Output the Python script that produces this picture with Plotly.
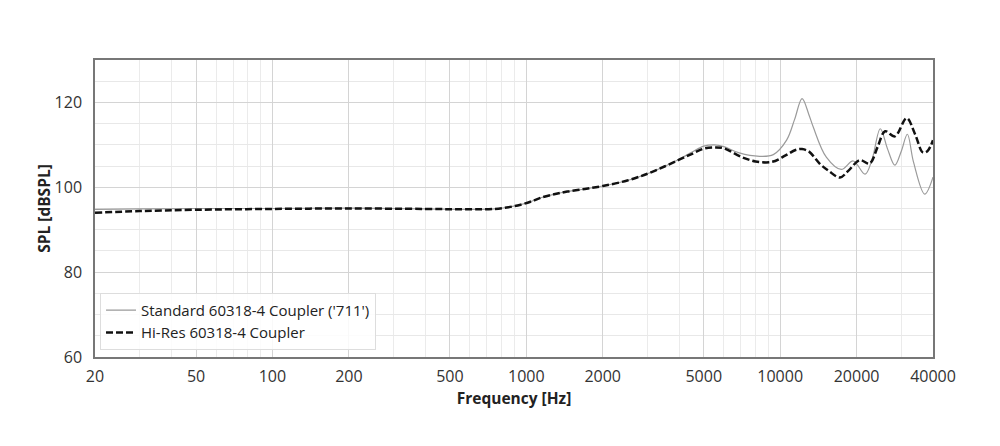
import numpy as np
import plotly.graph_objects as go

# Standard 60318-4 coupler ('711')
std_freq = [20, 30, 50, 100, 200, 400, 600, 750, 850, 950, 1050, 1150, 1300, 1450, 1700,
            2000, 2500, 3000, 3500, 4000, 4500, 5000, 5500, 6000, 6900, 8300, 9400, 10600,
            11400, 12200, 13000, 13500, 15200, 17400, 19400, 21600, 23000, 24800, 26500,
            28300, 30000, 31700, 33500, 37100, 40000]
std_spl = [94.8, 94.9, 95.0, 95.0, 95.1, 94.9, 94.8, 94.9, 95.3, 95.9, 96.7, 97.6, 98.4, 99.0, 99.6,
           100.3, 101.6, 103.2, 104.9, 106.6, 108.3, 109.7, 110.0, 109.6, 108.1, 107.3, 107.7, 111.1,
           116.0, 120.9, 117.0, 114.2, 107.1, 104.2, 106.2, 103.1, 106.5, 113.8, 109.0,
           105.2, 108.5, 112.5, 106.0, 98.4, 102.4]

# Hi-Res 60318-4 coupler
hr_freq = [20, 30, 50, 100, 200, 400, 600, 750, 850, 950, 1050, 1150, 1300, 1450, 1700,
           2000, 2500, 3000, 3500, 4000, 4500, 5000, 5500, 6000, 7000, 8000, 9300, 10500,
           11500, 12200, 13000, 14300, 15500, 17200, 18500, 20600, 22500, 24200, 25900,
           28300, 31500, 34000, 36500, 38000, 40000]
hr_spl = [94.0, 94.4, 94.7, 94.9, 95.0, 94.9, 94.8, 94.9, 95.3, 95.9, 96.7, 97.6, 98.4, 99.0, 99.6,
          100.3, 101.6, 103.2, 104.9, 106.5, 107.9, 109.1, 109.4, 109.2, 107.2, 106.1, 106.0, 107.5,
          108.8, 109.0, 108.4, 105.6, 103.9, 102.3, 103.8, 106.4, 105.6, 109.5, 113.2,
          112.0, 116.3, 112.5, 108.2, 108.5, 111.1]

x_ticks = [20, 50, 100, 200, 500, 1000, 2000, 5000, 10000, 20000, 40000]
x_ticktext = ["20", "50", "100", "200", "500", "1000", "2000", "5000", "10000", "20000", "40000"]
y_ticks = [60, 80, 100, 120]

minor_x = []
for dec in [10, 100, 1000, 10000]:
    for m in range(1, 10):
        v = m * dec
        if 20 <= v <= 40000 and v not in x_ticks:
            minor_x.append(v)

FONT = "Open Sans"

fig = go.Figure()
fig.add_trace(go.Scatter(
    x=std_freq, y=std_spl, mode="lines", name="Standard 60318-4 Coupler ('711')",
    line=dict(color="#9a9a9a", width=1.2, shape="spline", smoothing=1.0),
))
fig.add_trace(go.Scatter(
    x=hr_freq, y=hr_spl, mode="lines", name="Hi-Res 60318-4 Coupler",
    line=dict(color="#111111", width=2.5, dash="7px,3px", shape="spline", smoothing=1.0),
))

fig.update_layout(
    width=1000, height=446,
    margin=dict(l=95, r=67, t=60, b=89),
    paper_bgcolor="white", plot_bgcolor="white",
    font=dict(family=FONT, size=16, color="#333333"),
    showlegend=True,
    legend=dict(
        x=0.006, y=0.024, xanchor="left", yanchor="bottom",
        bgcolor="rgba(255,255,255,0.85)", bordercolor="#dddddd", borderwidth=1,
        font=dict(family=FONT, size=15, color="#222222"),
        tracegroupgap=0,
    ),
)

fig.update_xaxes(
    type="log", range=[np.log10(20), np.log10(40000)],
    tickmode="array", tickvals=x_ticks, ticktext=x_ticktext,
    showgrid=True, gridcolor="#d4d4d4", gridwidth=1,
    minor=dict(tickmode="array", tickvals=minor_x, showgrid=True, gridcolor="#ebebeb", gridwidth=1, ticklen=0),
    showline=True, linecolor="#777777", linewidth=1.5, mirror=True,
    ticks="", ticklabelstandoff=4,
    zeroline=False,
    title=dict(text="<b>Frequency [Hz]</b>", font=dict(family=FONT, size=15.5, color="#222222"), standoff=2),
)
fig.update_yaxes(
    range=[60, 130],
    tickmode="array", tickvals=y_ticks,
    showgrid=True, gridcolor="#d4d4d4", gridwidth=1,
    minor=dict(dtick=5, tick0=60, showgrid=True, gridcolor="#e8e8e8", gridwidth=1, ticklen=0),
    showline=True, linecolor="#777777", linewidth=1.5, mirror=True,
    ticks="", ticklabelstandoff=8,
    zeroline=False,
    title=dict(text="<b>SPL [dBSPL]</b>", font=dict(family=FONT, size=15.5, color="#222222"), standoff=0),
)

fig.write_html("out.html")
